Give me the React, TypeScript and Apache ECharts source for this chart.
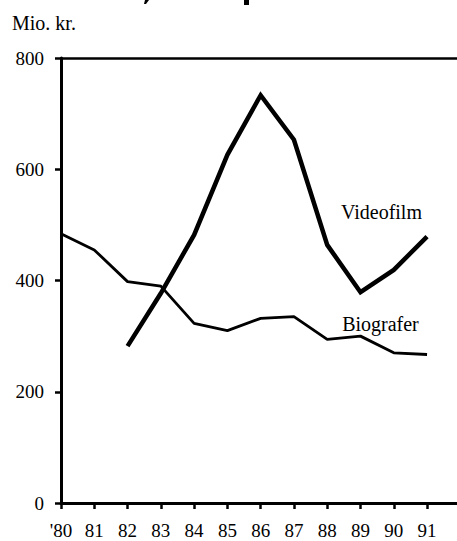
import React, { useEffect, useRef } from "react";
import * as echarts from "echarts";

const years = [80, 81, 82, 83, 84, 85, 86, 87, 88, 89, 90, 91];
const videofilm = [null, null, 282, 377, 482, 626, 733, 653, 464, 379, 419, 479];
const biografer = [484, 455, 398, 390, 323, 310, 332, 335, 294, 300, 270, 267];
const yTicks = [0, 200, 400, 600, 800];
const unitLabel = "Mio. kr.";
const seriesNames = ["Videofilm", "Biografer"];

const FONT = "Times New Roman, Liberation Serif, serif";

export default function App() {
  const ref = useRef<HTMLDivElement>(null);
  useEffect(() => {
    if (!ref.current) return;
    const chart = echarts.init(ref.current, null, { renderer: "svg" });
    const pair = (vals: (number | null)[]) =>
      years.map((y, i) => [y, vals[i]]).filter((p) => p[1] != null);
    const mp = (name: string, coord: number[]) => ({
      symbol: "circle",
      symbolSize: 1,
      itemStyle: { color: "rgba(0,0,0,0)" },
      label: {
        show: true,
        position: "inside",
        color: "#000",
        fontFamily: FONT,
        fontSize: 20,
        formatter: () => name,
      },
      data: [{ coord }],
    });
    chart.setOption({
      animation: false,
      backgroundColor: "#fff",
      grid: { left: 61, right: 0, top: 58, bottom: 38, containLabel: false },
      graphic: [
        {
          type: "text",
          left: 12,
          top: 13,
          style: { text: unitLabel, fontFamily: FONT, fontSize: 20, fill: "#000" },
        },
        {
          type: "polygon",
          shape: { points: [[145, 0], [149, 0], [146, 4], [144, 4]] },
          style: { fill: "#000" },
        },
        {
          type: "rect",
          shape: { x: 244, y: 0, width: 5, height: 5 },
          style: { fill: "#000" },
        },
      ],
      xAxis: [
        {
          type: "value",
          min: 80,
          max: 91.9,
          interval: 1,
          splitLine: { show: false },
          axisLine: { show: true, lineStyle: { color: "#000", width: 3 } },
          axisTick: { show: true, length: 6, lineStyle: { color: "#000", width: 2.5 } },
          axisLabel: {
            color: "#000",
            fontFamily: FONT,
            fontSize: 19,
            margin: 18,
            showMaxLabel: false,
            formatter: (v: number) => (v > 91.5 ? "" : v === 80 ? "'80" : String(v)),
          },
        },
        {
          type: "value",
          position: "top",
          min: 80,
          max: 91.9,
          axisLine: { show: true, onZero: false, lineStyle: { color: "#000", width: 2.5 } },
          axisTick: { show: false },
          axisLabel: { show: false },
          splitLine: { show: false },
        },
      ],
      yAxis: {
        type: "value",
        min: yTicks[0],
        max: yTicks[yTicks.length - 1],
        interval: 200,
        splitLine: { show: false },
        axisLine: { show: true, lineStyle: { color: "#000", width: 3 } },
        axisTick: { show: true, length: 6, lineStyle: { color: "#000", width: 2.5 } },
        axisLabel: { color: "#000", fontFamily: FONT, fontSize: 19, margin: 17 },
      },
      series: [
        {
          name: seriesNames[0],
          type: "line",
          data: pair(videofilm),
          symbol: "none",
          lineStyle: { color: "#000", width: 4.5, join: "miter" },
          markPoint: mp(seriesNames[0], [89.63, 523]),
        },
        {
          name: seriesNames[1],
          type: "line",
          data: pair(biografer),
          symbol: "none",
          lineStyle: { color: "#000", width: 2.8 },
          markPoint: mp(seriesNames[1], [89.6, 322]),
        },
      ],
    });
    return () => chart.dispose();
  }, []);
  return <div ref={ref} style={{ width: 457, height: 541, position: "absolute", left: 0, top: 0 }} />;
}
